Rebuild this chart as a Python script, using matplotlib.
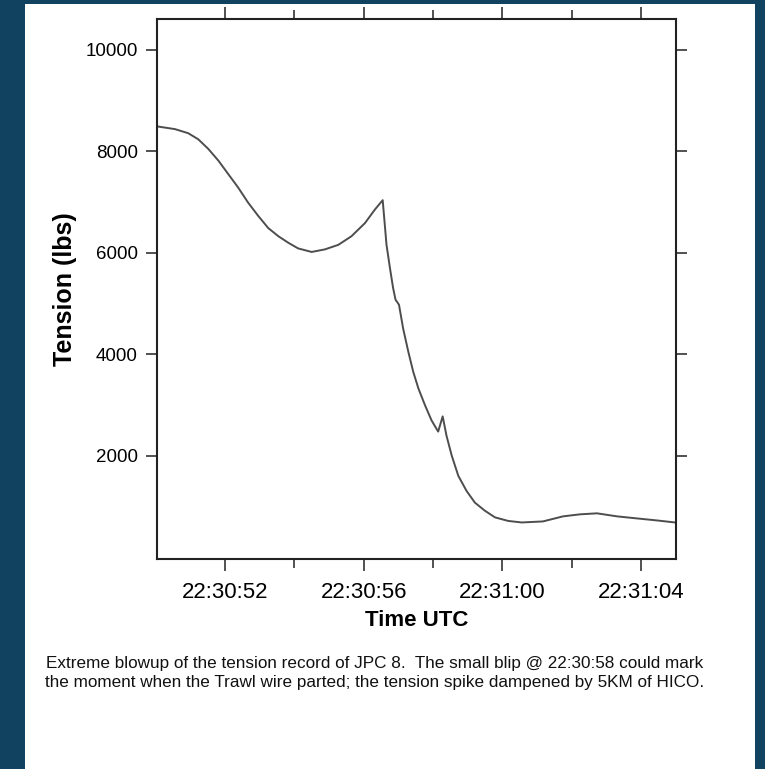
import matplotlib
matplotlib.use("Agg")
import matplotlib.pyplot as plt
from matplotlib.patches import Rectangle

# ------------------------------------------------------------
# Tension record of JPC 8
# time = seconds after 22:30:00 UTC, tension in lbs
# ------------------------------------------------------------
time_s = [50.08, 50.56, 50.94, 51.23, 51.52, 51.81, 52.10, 52.38, 52.67,
          52.96, 53.25, 53.54, 53.83, 54.11, 54.50, 54.88, 55.27, 55.65,
          56.04, 56.33, 56.55, 56.66, 56.76, 56.85, 56.92, 57.02, 57.14,
          57.29, 57.43, 57.58, 57.77, 57.96, 58.15, 58.28, 58.39, 58.54,
          58.73, 58.97, 59.21, 59.50, 59.79, 60.17, 60.56, 61.17, 61.75,
          62.24, 62.73, 63.31, 63.88, 64.46, 64.98]
tension = [8490, 8440, 8360, 8240, 8050, 7820, 7550, 7290, 6990,
           6730, 6490, 6330, 6200, 6090, 6020, 6070, 6160, 6330,
           6590, 6860, 7040, 6160, 5700, 5310, 5080, 4980, 4510,
           4050, 3660, 3330, 3000, 2700, 2480, 2780, 2400, 2010,
           1610, 1310, 1080, 920, 790, 720, 690, 710, 810,
           850, 870, 810, 770, 730, 690]

major_ticks = [52, 56, 60, 64]
minor_ticks = [54, 58, 62]
major_labels = ["22:30:52", "22:30:56", "22:31:00", "22:31:04"]
y_ticks = [2000, 4000, 6000, 8000, 10000]

caption = ("Extreme blowup of the tension record of JPC 8.  The small blip @ 22:30:58 could mark\n"
           "the moment when the Trawl wire parted; the tension spike dampened by 5KM of HICO.")

plt.rcParams["font.family"] = ["Liberation Sans", "DejaVu Sans"]

fig = plt.figure(figsize=(7.65, 7.69), dpi=100, facecolor="#11425f")
# white slide panel behind everything
fig.patches.append(Rectangle((25 / 765, 0), 730 / 765, 1 - 4 / 769,
                             transform=fig.transFigure, facecolor="white",
                             edgecolor="none", zorder=-10))

ax = fig.add_axes([157 / 765, 1 - 559 / 769, 519 / 765, 540 / 769])
ax.set_zorder(1)
ax.patch.set_alpha(0)
ax.plot(time_s, tension, color="#4d4d4d", lw=1.4)

ax.set_xlim(50.04, 65.01)
ax.set_ylim(-30, 10610)

ax.set_xticks(major_ticks)
ax.set_xticklabels(major_labels, fontsize=16)
ax.set_xticks(minor_ticks, minor=True)
ax.set_yticks(y_ticks)
ax.set_yticklabels([str(v) for v in y_ticks], fontsize=13.5)

ax.tick_params(axis="x", which="major", direction="out", length=8.8, width=1.1,
               top=True, pad=8, color="#222222")
ax.tick_params(axis="x", which="minor", direction="out", length=6.5, width=1.1,
               top=True, color="#222222")
ax.tick_params(axis="y", which="major", direction="out", length=7.8, width=1.1,
               right=True, pad=6, color="#222222")

for s in ax.spines.values():
    s.set_linewidth(1.5)
    s.set_color("#222222")

ax.set_xlabel("Time UTC", fontsize=16, fontweight="bold", labelpad=5)
ax.set_ylabel("Tension (lbs)", fontsize=18, fontweight="bold", labelpad=6)

fig.text(375 / 765, 1 - 673 / 769, caption, ha="center", va="center",
         fontsize=12.3, linespacing=1.28, color="#111111")

fig.savefig("out.png", dpi=100, facecolor=fig.get_facecolor())
